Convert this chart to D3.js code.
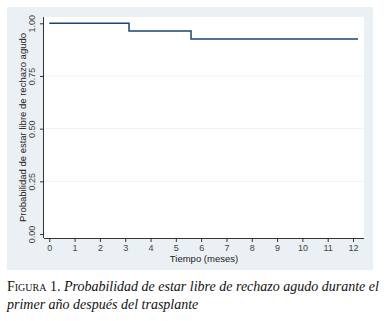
<!DOCTYPE html>
<html>
<head>
<meta charset="utf-8">
<script src="https://cdn.jsdelivr.net/npm/d3@7"></script>
<style>
  html, body { margin: 0; padding: 0; background: #ffffff; }
  svg { display: block; }
</style>
</head>
<body>
<svg id="chart" width="387" height="321"></svg>
<script>
// Data: Kaplan-Meier step function (time in months, survival probability)
const stepTimes = [0, 3.15, 5.6, 12.2];
const stepValues = [1.00, 0.963, 0.926, 0.926];
const xTicks = [0, 1, 2, 3, 4, 5, 6, 7, 8, 9, 10, 11, 12];
const yTicks = [0, 0.25, 0.5, 0.75, 1];
const yTickLabels = ["0.00", "0.25", "0.50", "0.75", "1.00"];
const xTitle = "Tiempo (meses)";
const yTitle = "Probabilidad de estar libre de rechazo agudo";
const captionLead = "Figura 1.";
const captionLine1 = " Probabilidad de estar libre de rechazo agudo durante el";
const captionLine2 = "primer año después del trasplante";

const svg = d3.select("#chart");
const sans = "Arial, 'Liberation Sans', sans-serif";
const serif = "'Liberation Serif', 'Times New Roman', serif";

// Outer panel
svg.append("rect").attr("x", 7).attr("y", 7).attr("width", 366).attr("height", 263)
  .attr("fill", "#eaf0f3");
// Plot region
const plot = {left: 44, right: 364, top: 17, bottom: 238};
svg.append("rect").attr("x", plot.left).attr("y", plot.top)
  .attr("width", plot.right - plot.left).attr("height", plot.bottom - plot.top)
  .attr("fill", "#ffffff");

const x = d3.scaleLinear().domain([0, 12]).range([49.3, 353]);
const y = d3.scaleLinear().domain([0, 1]).range([234, 23.3]);

// Gridlines
svg.append("g").selectAll("line").data(yTicks.filter(d => d > 0 && d < 1)).join("line")
  .attr("x1", plot.left).attr("x2", plot.right)
  .attr("y1", d => y(d)).attr("y2", d => y(d))
  .attr("stroke", "#eef2f4").attr("stroke-width", 1);

// X axis
const xAxis = svg.append("g").attr("transform", `translate(0,${plot.bottom})`)
  .call(d3.axisBottom(x).tickValues(xTicks).tickSize(4).tickPadding(3).tickFormat(d3.format("d")));
xAxis.select(".domain").attr("d", `M${plot.left},0.5H${plot.right}`).attr("stroke", "#333");
xAxis.selectAll(".tick line").attr("stroke", "#333");
xAxis.selectAll("text").attr("font-family", sans)
  .attr("font-size", 9).attr("fill", "#444");

// Y axis
const yAxis = svg.append("g").attr("transform", `translate(${plot.left},0)`)
  .call(d3.axisLeft(y).tickValues(yTicks).tickSize(4).tickFormat((d, i) => yTickLabels[i]));
yAxis.select(".domain").attr("d", `M-0.5,${plot.top}V${plot.bottom}`).attr("stroke", "#333");
yAxis.selectAll(".tick line").attr("stroke", "#333");
yAxis.selectAll("text")
  .attr("x", 0).attr("dy", 0)
  .attr("transform", "translate(-9,0) rotate(-90)")
  .attr("text-anchor", "middle")
  .attr("font-family", sans)
  .attr("font-size", 9).attr("fill", "#444");

// Axis titles
svg.append("text").attr("x", (plot.left + plot.right) / 2).attr("y", 262)
  .attr("text-anchor", "middle").attr("font-family", sans)
  .attr("font-size", 9.5).attr("fill", "#222").text(xTitle);
svg.append("text").attr("transform", `translate(26,${(plot.top + plot.bottom) / 2}) rotate(-90)`)
  .attr("text-anchor", "middle").attr("font-family", sans)
  .attr("font-size", 9.5).attr("fill", "#222").text(yTitle);

// Step line
const pts = stepTimes.map((t, i) => [t, stepValues[i]]);
const line = d3.line().x(d => x(d[0])).y(d => y(d[1])).curve(d3.curveStepAfter);
svg.append("path").datum(pts).attr("d", line)
  .attr("fill", "none").attr("stroke", "#1a476f").attr("stroke-width", 1.5);

// Caption
const cap = svg.append("text").attr("x", 7).attr("y", 291)
  .attr("font-family", serif)
  .attr("font-size", 14).attr("fill", "#111");
cap.append("tspan").attr("font-variant", "small-caps").text(captionLead);
cap.append("tspan").attr("font-style", "italic").text(captionLine1);
svg.append("text").attr("x", 7).attr("y", 309)
  .attr("font-family", serif)
  .attr("font-size", 14).attr("font-style", "italic").attr("fill", "#111")
  .text(captionLine2);
</script>
</body>
</html>
